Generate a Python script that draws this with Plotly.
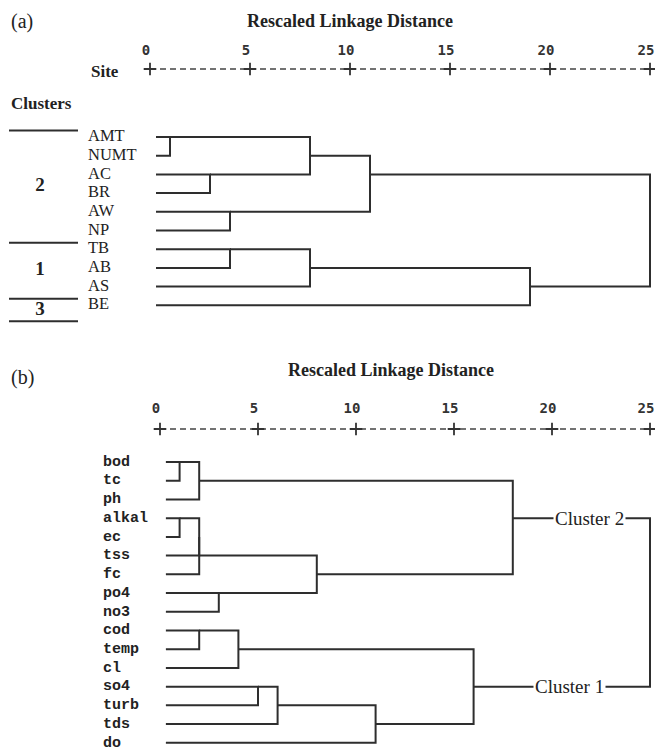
import plotly.graph_objects as go

# ---------------- data ----------------
sites = ["AMT", "NUMT", "AC", "BR", "AW", "NP", "TB", "AB", "AS", "BE"]
# (child A, child B, rescaled linkage distance); int = index of an earlier merge
merges_a = [
    ("AMT", "NUMT", 1.0),
    ("AC", "BR", 3.0),
    ("AW", "NP", 4.0),
    ("TB", "AB", 4.0),
    (0, 1, 8.0),
    (3, "AS", 8.0),
    (4, 2, 11.0),
    (5, "BE", 19.0),
    (6, 7, 25.0),
]
cluster_names_a = ["2", "1", "3"]
cluster_sizes_a = [6, 3, 1]

params = ["bod", "tc", "ph", "alkal", "ec", "tss", "fc", "po4", "no3",
          "cod", "temp", "cl", "so4", "turb", "tds", "do"]
merges_b = [
    ("bod", "tc", 1.0),
    ("alkal", "ec", 1.0),
    (0, "ph", 2.0),
    (1, "tss", 2.0),
    (3, "fc", 2.0),
    ("cod", "temp", 2.0),
    ("po4", "no3", 3.0),
    (5, "cl", 4.0),
    ("so4", "turb", 5.0),
    (8, "tds", 6.0),
    (4, 6, 8.0),
    (9, "do", 11.0),
    (7, 11, 16.0),
    (2, 10, 18.0),
    (13, 12, 25.0),
]
cluster_labels_b = ["Cluster 2", "Cluster 1"]
cluster_label_pos_b = [21.9, 20.9]    # label centre along the distance scale
cluster_label_node_b = [13, 12]       # merge whose line carries the label

tick_vals = [0, 5, 10, 15, 20, 25]
axis_title = "Rescaled Linkage Distance"

# ---------------- geometry helpers (screen pixels) ----------------
SW, SH = 663, 753
OFF = 8                      # default page margin before the figure
FW, FH = SW - 2 * OFF, SH - OFF
LEAF_START = 0.3
LINE = "#2e2e2e"

XA0, XAS = 150.0, 20.0
RA0, RAS = 137.0, 18.7
PA_TOP, PA_BOT = OFF, 335
XB0, XBS = 160.0, 19.6
RB0, RBS = 462.0, 18.72
PB_TOP, PB_BOT = 335, SH


def xa(px):
    return (px - XA0) / XAS


def xb(px):
    return (px - XB0) / XBS


def ra(py):
    return (py - RA0) / RAS


def rb(py):
    return (py - RB0) / RBS


def fx(px):
    return (px - OFF) / FW


def fy(py):
    return 1 - (py - OFF) / FH


def dendro(leaves, merges):
    pos = {n: (LEAF_START, i) for i, n in enumerate(leaves)}
    nodes = []
    xs, ys = [], []
    for a, b, d in merges:
        pa = pos[a] if isinstance(a, str) else nodes[a]
        pb = pos[b] if isinstance(b, str) else nodes[b]
        xs += [pa[0], d, d, pb[0], None]
        ys += [pa[1], pa[1], pb[1], pb[1], None]
        nodes.append((d, (pa[1] + pb[1]) // 2))
    return xs, ys, nodes


fig = go.Figure()

serif = "Liberation Serif"
mono = "Liberation Mono"
tickfont = dict(family="DejaVu Sans Mono", size=14, color="#333", weight="bold")
TXT = "#222"

# ---------------- panel (a) ----------------
xs, ys, nodes_a = dendro(sites, merges_a)
fig.add_trace(go.Scatter(x=xs, y=ys, mode="lines", xaxis="x", yaxis="y",
                         line=dict(color=LINE, width=2), hoverinfo="skip"))
fig.add_trace(go.Scatter(x=[xa(88)] * len(sites), y=list(range(len(sites))),
                         mode="text", text=sites, textposition="middle right",
                         textfont=dict(family=serif, size=16.5, color=TXT),
                         xaxis="x", yaxis="y", hoverinfo="skip"))
ya_line = ra(69)
fig.add_trace(go.Scatter(x=[tick_vals[0], tick_vals[-1]], y=[ya_line, ya_line],
                         mode="lines", line=dict(color="#444", width=1.5, dash="6px,4px"),
                         xaxis="x", yaxis="y", hoverinfo="skip"))
fig.add_trace(go.Scatter(x=tick_vals, y=[ya_line] * len(tick_vals), mode="markers",
                         marker=dict(symbol="cross-thin", size=9,
                                     line=dict(color="#333", width=1.8)),
                         xaxis="x", yaxis="y", hoverinfo="skip"))
starts = [0]
for s in cluster_sizes_a:
    starts.append(starts[-1] + s)
bounds = [st - 0.35 for st in starts[:-1]] + [starts[-1] - 1 + 0.85]
sx, sy = [], []
for bd in bounds:
    sx += [xa(9), xa(78), None]
    sy += [bd, bd, None]
fig.add_trace(go.Scatter(x=sx, y=sy, mode="lines", line=dict(color=LINE, width=2),
                         xaxis="x", yaxis="y", hoverinfo="skip"))
fig.add_trace(go.Scatter(x=[xa(40)] * len(cluster_names_a),
                         y=[(bounds[i] + bounds[i + 1]) / 2 for i in range(len(cluster_names_a))],
                         mode="text", text=cluster_names_a, textposition="middle center",
                         textfont=dict(family=serif, size=19, color=TXT, weight="bold"),
                         xaxis="x", yaxis="y", hoverinfo="skip"))

# ---------------- panel (b) ----------------
xs, ys, nodes_b = dendro(params, merges_b)
fig.add_trace(go.Scatter(x=xs, y=ys, mode="lines", xaxis="x2", yaxis="y2",
                         line=dict(color=LINE, width=2), hoverinfo="skip"))
fig.add_trace(go.Scatter(x=[xb(103)] * len(params), y=list(range(len(params))),
                         mode="text", text=params, textposition="middle right",
                         textfont=dict(family=mono, size=15, color=TXT, weight="bold"),
                         xaxis="x2", yaxis="y2", hoverinfo="skip"))
yb_line = rb(429)
fig.add_trace(go.Scatter(x=[tick_vals[0], tick_vals[-1]], y=[yb_line, yb_line],
                         mode="lines", line=dict(color="#444", width=1.5, dash="6px,4px"),
                         xaxis="x2", yaxis="y2", hoverinfo="skip"))
fig.add_trace(go.Scatter(x=tick_vals, y=[yb_line] * len(tick_vals), mode="markers",
                         marker=dict(symbol="cross-thin", size=9,
                                     line=dict(color="#333", width=1.8)),
                         xaxis="x2", yaxis="y2", hoverinfo="skip"))

bold17 = dict(family=serif, size=17, color=TXT, weight="bold")
bold18 = dict(family=serif, size=18, color=TXT, weight="bold")
annotations = [
    dict(text="(a)", x=fx(22), y=fy(22), xref="paper", yref="paper", xanchor="center",
         yanchor="middle", showarrow=False, font=dict(family=serif, size=20, color=TXT)),
    dict(text="(b)", x=fx(22), y=fy(377), xref="paper", yref="paper", xanchor="center",
         yanchor="middle", showarrow=False, font=dict(family=serif, size=20, color=TXT)),
    dict(text=axis_title, x=xa(350), y=ra(21), xref="x", yref="y", showarrow=False,
         xanchor="center", font=bold18),
    dict(text=axis_title, x=xb(391), y=rb(370), xref="x2", yref="y2", showarrow=False,
         xanchor="center", font=bold18),
    dict(text="Site", x=xa(105), y=ra(71), xref="x", yref="y", showarrow=False,
         xanchor="center", font=bold17),
    dict(text="Clusters", x=xa(41), y=ra(103), xref="x", yref="y", showarrow=False,
         xanchor="center", font=bold17),
]
for lab, xpos, ni in zip(cluster_labels_b, cluster_label_pos_b, cluster_label_node_b):
    annotations.append(dict(text=lab, x=xpos, y=nodes_b[ni][1], xref="x2", yref="y2",
                            showarrow=False, bgcolor="white", borderpad=1, xanchor="center",
                            font=dict(family=serif, size=19, color=TXT)))

axis_common = dict(showgrid=False, zeroline=False, showline=False, ticks="",
                   tickvals=tick_vals, tickfont=tickfont, side="top",
                   ticklabelshift=-4, anchor="free", domain=[0, 1])

fig.update_layout(
    width=FW, height=FH, margin=dict(l=0, r=0, t=0, b=0),
    paper_bgcolor="white", plot_bgcolor="white", showlegend=False,
    xaxis=dict(axis_common, range=[xa(OFF), xa(OFF + FW)], position=fy(58)),
    xaxis2=dict(axis_common, range=[xb(OFF), xb(OFF + FW)], position=fy(416)),
    yaxis=dict(visible=False, range=[ra(PA_BOT), ra(PA_TOP)],
               domain=[fy(PA_BOT), fy(PA_TOP)], anchor="x"),
    yaxis2=dict(visible=False, range=[rb(PB_BOT), rb(PB_TOP)],
                domain=[fy(PB_BOT), fy(PB_TOP)], anchor="x2"),
    annotations=annotations,
)

fig.write_html("out.html")
